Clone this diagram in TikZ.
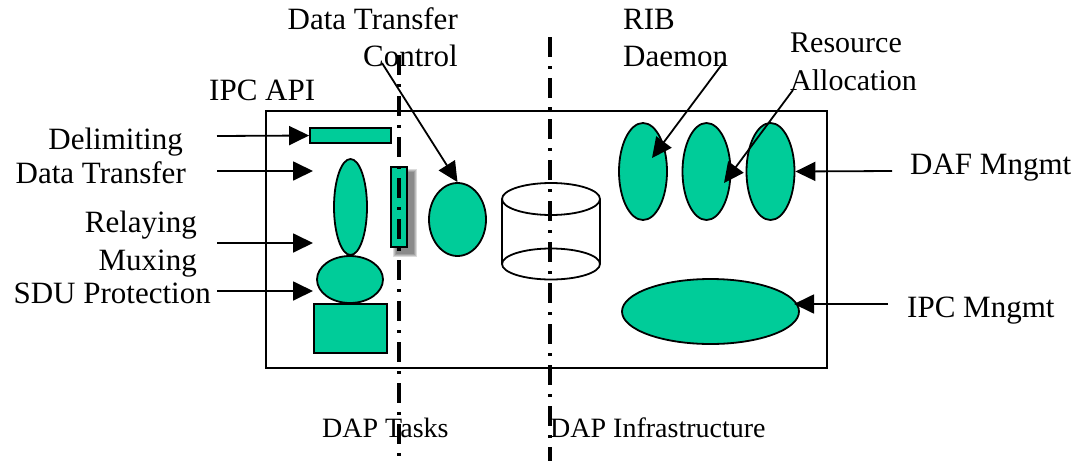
\documentclass[tikz,border=0pt]{standalone}
\usepackage{fontspec}
\setmainfont{Liberation Serif}
\usetikzlibrary{arrows.meta,shapes.geometric,shadows}
\definecolor{sea}{HTML}{00CC99}
\begin{document}
\begin{tikzpicture}[x=1pt,y=-1pt,
  lbl/.style={inner sep=0pt,font=\fontsize{31}{37}\selectfont},
  blbl/.style={inner sep=0pt,font=\fontsize{28}{33}\selectfont},
  gfill/.style={draw=black,fill=sea,line width=1.8pt,inner sep=0pt},
  gell/.style={gfill,ellipse},
  grect/.style={gfill,rectangle},
  arr/.style={line width=1.8pt,-{Triangle[length=20pt,width=19pt]}},
  dashdot/.style={line width=4pt,dash pattern=on 20pt off 9pt on 3pt off 9pt},
  frame/.style={draw=black,line width=2pt},
  outline/.style={draw=black,line width=1.8pt}]
\useasboundingbox (0,0) rectangle (1084,461);

% frame
\draw[frame] (266,111) rectangle (827,368);

% shapes
\node[grect, minimum width=81pt, minimum height=15pt] (delim) at (350.5,135.5) {};
\node[gell, minimum width=33pt, minimum height=96pt] (dtell) at (350.5,207) {};
\node[gell, minimum width=66pt, minimum height=47pt] (relay) at (350,279.5) {};
\node[grect, minimum width=73pt, minimum height=49pt] (sdu) at (350.5,328.5) {};
% blurred shadow of the thin bar
\foreach \g in {4,3,2,1} {
  \fill[black, opacity=0.14] (393-\g+4,169-\g+4) rectangle (409+\g+4,249+\g+4);
}
\node[grect, minimum width=16pt, minimum height=80pt] (thin) at (399,207) {};
\node[gell, minimum width=57pt, minimum height=73pt] (dtc) at (457.5,219.5) {};

% cylinder
\draw[outline] (502,199) -- (502,264) (600,199) -- (600,264);
\draw[outline] (551,199) ellipse [x radius=49pt, y radius=16pt];
\draw[outline] (551,264) ellipse [x radius=49pt, y radius=15.5pt];

\node[gell, minimum width=48pt, minimum height=97pt] (rib1) at (643,171.5) {};
\node[gell, minimum width=48pt, minimum height=97pt] (rib2) at (706.5,171.5) {};
\node[gell, minimum width=48pt, minimum height=97pt] (rib3) at (770.5,171.5) {};
\node[gell, minimum width=177pt, minimum height=65pt] (ipcm) at (710.5,311.5) {};

% dash-dot separators
\coordinate (s1a) at (399,55);
\coordinate (s1b) at (399,461);
\coordinate (s2a) at (550,37);
\coordinate (s2b) at (550,461);
\draw[dashdot] (s1a) -- (s1b);
\draw[dashdot] (s2a) -- (s2b);

% labels
\node[lbl, anchor=base east] (lDelim) at (183,149) {Delimiting};
\node[lbl, anchor=base east] (lDT) at (186,183) {Data Transfer};
\node[lbl, anchor=base east] (lRelay) at (197,232) {Relaying};
\node[lbl, anchor=base east] (lMux) at (197,270) {Muxing};
\node[lbl, anchor=base east] (lSDU) at (211,303) {SDU Protection};
\node[lbl, anchor=base west] (lAPI) at (209,100) {IPC API};
\node[lbl, anchor=base east, align=right] (lDTC) at (458,66) {Data Transfer\\Control};
\node[lbl, anchor=base west, align=left] (lRIB) at (623,66) {RIB\\Daemon};
\node[lbl, anchor=base west, align=left, font=\fontsize{30}{38}\selectfont] (lRA) at (790,90) {Resource\\Allocation};
\node[lbl, anchor=base west] (lDAF) at (910,174) {DAF Mngmt};
\node[lbl, anchor=base west] (lIPC) at (907,317) {IPC Mngmt};
\node[blbl, anchor=base west] (lTasks) at (322,437) {DAP Tasks};
\node[blbl, anchor=base west] (lInfra) at (550,437) {DAP Infrastructure};

% arrows
\coordinate (aDelim) at (217,136);
\coordinate (aDT) at (217,171);   \coordinate (tDT) at (313,171);
\coordinate (aRel) at (217,243);  \coordinate (tRel) at (313,243);
\coordinate (aSDU) at (217,291);  \coordinate (tSDU) at (313,291);
\coordinate (aDTC) at (382,63);
\coordinate (aRIB) at (723,63);   \coordinate (tRIB) at (652,158);
\coordinate (aRA) at (793,90);    \coordinate (tRA) at (724,183);
\coordinate (aDAF) at (892,171);
\coordinate (aIPC) at (888,304);  \coordinate (tIPC) at (794,304);

\draw[arr] (aDelim) -- (delim.west);
\draw[arr] (aDT) -- (tDT);
\draw[arr] (aRel) -- (tRel);
\draw[arr] (aSDU) -- (tSDU);
\draw[arr] (aDTC) -- (dtc.north);
\draw[arr] (aRIB) -- (tRIB);
\draw[arr] (aRA) -- (tRA);
\draw[arr] (aDAF) -- (rib3.east);
\draw[arr] (aIPC) -- (tIPC);
\end{tikzpicture}
\end{document}
